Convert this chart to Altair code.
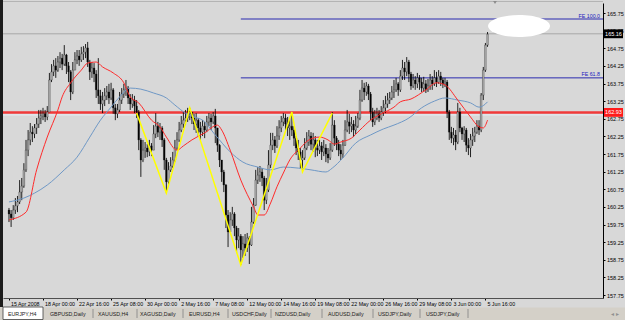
import altair as alt
import pandas as pd

# ---------------- data ----------------
first_open = 160.16
close = [160.05,159.94,160.16,160.28,160.39,160.67,160.84,161.30,161.86,162.15,
162.37,162.32,162.49,162.60,162.77,162.83,162.89,162.80,162.94,163.85,
164.08,164.25,164.13,164.36,164.47,164.30,164.56,164.25,164.08,163.51,
164.13,164.42,164.53,164.42,164.59,164.64,164.76,164.36,164.08,164.19,
164.02,163.57,163.40,163.17,163.28,163.40,163.51,163.34,163.57,163.06,
162.89,163.00,163.28,163.45,163.57,163.62,163.34,163.17,163.28,163.11,
162.94,162.15,161.58,161.86,161.92,161.81,161.98,161.86,162.32,162.54,
162.37,162.49,162.15,161.58,160.96,161.30,161.41,161.58,161.92,162.15,
162.43,162.60,162.71,162.77,162.89,162.94,162.77,162.60,162.71,162.49,
162.37,162.54,162.43,162.66,162.77,162.66,162.83,162.49,162.00,161.58,
161.24,160.87,160.02,159.54,159.88,160.05,159.65,159.31,159.42,159.03,
159.20,159.08,159.37,159.17,159.82,160.30,161.01,161.15,161.24,161.07,
160.44,160.73,161.44,162.00,162.15,161.98,162.26,162.49,162.66,162.77,
162.60,162.49,162.54,162.43,162.20,161.92,161.81,161.58,161.64,161.92,
162.09,162.26,162.03,162.15,161.92,161.86,161.98,161.81,161.92,161.75,
161.64,161.86,162.57,162.20,162.03,161.86,161.75,162.00,162.43,162.66,
162.54,162.60,162.43,162.54,162.77,163.28,163.62,163.51,163.68,163.45,
162.94,162.66,162.77,162.89,162.77,162.94,163.06,163.17,163.28,163.34,
163.51,163.57,163.74,163.57,163.96,164.19,164.08,164.36,164.02,163.68,
163.85,163.74,163.91,163.79,163.62,163.74,163.57,163.68,163.85,163.74,
163.91,163.79,163.96,163.85,163.74,163.79,162.94,162.37,162.20,162.29,
162.09,162.94,162.49,162.32,162.43,162.00,161.92,162.15,162.26,162.37,
162.54,162.43,163.42,164.13,164.84,165.15]
high = [160.22,160.16,160.30,160.50,160.56,161.01,161.07,161.49,162.15,162.43,
162.63,162.54,162.60,162.77,163.00,163.00,163.06,163.00,163.11,164.05,
164.30,164.42,164.47,164.53,164.64,164.59,164.84,164.59,164.36,164.13,
164.36,164.64,164.70,164.70,164.79,164.81,164.87,164.93,164.42,164.36,
164.33,164.13,164.47,163.57,163.51,163.62,163.68,163.74,163.77,163.62,
163.17,163.17,163.51,163.62,163.74,163.85,163.68,163.45,163.45,163.40,
163.28,163.00,162.20,162.15,162.09,162.03,162.15,162.06,162.57,162.91,
162.66,162.63,162.54,162.20,161.64,161.52,161.66,161.81,162.15,162.37,
162.66,162.83,162.94,163.00,163.06,163.06,162.94,162.89,162.91,162.77,
162.66,162.71,162.66,162.83,162.91,162.89,162.94,163.03,162.49,162.03,
161.58,161.30,160.90,160.16,160.10,160.25,160.10,159.71,159.65,159.48,
159.42,159.48,159.51,159.42,160.25,160.50,161.30,161.38,161.41,161.35,
161.13,161.07,161.86,162.35,162.35,162.26,162.54,162.71,162.83,162.91,
162.89,162.80,162.77,162.91,162.54,162.26,162.15,161.92,161.86,162.20,
162.37,162.43,162.37,162.35,162.26,162.15,162.15,162.09,162.15,162.03,
161.92,162.06,162.94,162.71,162.26,162.15,162.03,162.15,162.71,163.00,
162.89,162.80,162.71,162.83,162.91,163.57,163.85,163.77,163.79,163.74,
163.51,163.06,163.00,163.06,163.00,163.11,163.28,163.40,163.48,163.51,
163.68,163.85,163.91,163.79,164.13,164.42,164.36,164.50,164.42,164.08,
164.02,163.96,164.05,163.99,163.91,163.94,163.85,163.88,164.02,163.96,
164.13,164.08,164.13,164.08,163.91,163.91,163.85,163.00,162.52,162.49,
162.43,163.20,163.06,162.52,162.54,162.49,162.20,162.32,162.49,162.52,
162.71,162.71,163.48,164.22,164.90,165.21]
low = [159.82,159.68,159.88,160.05,160.10,160.33,160.44,160.79,161.24,161.69,
162.00,162.09,162.20,162.32,162.49,162.60,162.71,162.66,162.71,162.94,
163.79,163.96,163.91,164.08,164.19,164.13,164.25,164.02,163.79,163.28,
163.45,164.13,164.30,164.25,164.36,164.42,164.47,164.22,163.85,163.91,
163.79,163.34,163.17,163.00,162.91,163.11,163.28,163.17,163.28,162.89,
162.71,162.77,162.94,163.17,163.34,163.40,163.17,163.00,163.06,162.91,
162.77,161.86,161.10,161.52,161.64,161.66,161.69,161.69,161.86,162.20,
162.23,162.15,161.95,161.30,160.64,160.87,161.24,161.35,161.52,161.86,
162.09,162.37,162.49,162.57,162.66,162.71,162.60,162.43,162.35,162.26,
162.15,162.26,162.20,162.37,162.54,162.43,162.60,162.06,161.81,161.38,
160.96,160.67,159.65,159.11,159.54,159.71,159.42,158.94,159.08,158.60,
158.80,158.86,158.97,158.63,159.14,159.77,160.28,160.90,160.96,160.84,
160.16,160.33,160.67,161.35,161.86,161.78,161.92,162.15,162.37,162.54,
162.43,162.26,162.15,162.26,161.98,161.72,161.58,161.35,161.24,161.58,
161.86,161.98,161.86,161.81,161.66,161.69,161.75,161.58,161.69,161.52,
161.49,161.58,161.81,161.98,161.86,161.69,161.58,161.64,161.98,162.37,
162.32,162.37,162.23,162.32,162.49,162.71,163.23,163.28,163.40,163.28,
162.71,162.52,162.57,162.71,162.66,162.71,162.83,162.91,163.06,163.17,
163.28,163.34,163.51,163.40,163.51,163.85,163.85,163.96,163.79,163.57,
163.62,163.57,163.62,163.57,163.51,163.51,163.48,163.51,163.57,163.57,
163.68,163.65,163.74,163.68,163.62,163.65,162.77,162.15,162.06,162.00,
161.86,162.03,162.37,162.15,162.09,161.81,161.72,161.66,161.98,162.09,
162.32,162.29,162.37,163.28,164.08,164.79]

ma_fast_bar = [0,8,13,18,23,25,29,34,37,41,44,49,54,57,61,67,71,74,79,82,86,92,98,100,104,
               109,115,117,120,123,126,129,132,137,141,146,150,153,156,161,165,170,175,181,
               184,189,196,201,205,211,217,221,223,225]
ma_fast = [159.88,160.10,161.30,162.23,163.00,163.37,163.77,164.13,164.33,164.36,
           164.22,164.05,163.77,163.37,163.20,162.71,162.52,162.23,161.86,161.98,
           162.15,162.35,162.57,162.43,161.86,161.01,160.25,160.02,160.02,160.36,
           160.82,161.21,161.58,161.92,162.15,162.23,162.15,162.03,162.09,162.20,
           162.43,162.71,162.89,163.08,163.23,163.31,163.57,163.77,163.71,163.28,
           162.80,162.52,162.49,162.71]
ma_slow_bar = [0,7,12,18,26,32,38,43,48,52,57,62,68,74,78,83,87,91,97,104,110,117,123,
               129,136,142,149,152,157,163,170,176,181,188,194,200,205,211,217,221,224,225]
ma_slow = [160.39,160.50,160.64,160.87,161.30,161.66,162.23,162.71,163.08,163.37,
           163.62,163.59,163.48,163.34,163.14,162.91,162.80,162.71,162.29,161.81,
           161.52,161.38,161.30,161.38,161.35,161.30,161.24,161.35,161.64,162.06,
           162.29,162.46,162.57,162.77,163.06,163.25,163.34,163.28,163.20,163.08,
           163.17,163.23]
zz_bar = [60, 74, 85, 109, 133, 138, 152]
zz_price = [162.91, 160.64, 163.06, 158.60, 162.94, 161.24, 162.91]

time_labels = ["15 Apr 2008", "18 Apr 00:00", "22 Apr 16:00", "25 Apr 08:00", "30 Apr 00:00",
               "2 May 16:00", "7 May 08:00", "12 May 00:00", "14 May 16:00", "19 May 08:00",
               "22 May 00:00", "26 May 16:00", "29 May 08:00", "3 Jun 00:00", "5 Jun 16:00"]
label_step = 16
price_ticks = [157.75, 158.25, 158.75, 159.25, 159.75, 160.25, 160.75, 161.25, 161.75,
               162.25, 162.75, 163.25, 163.75, 164.25, 164.75, 165.25, 165.75]
bid_price = 165.16
red_level = 162.93
fe_levels = [165.58, 163.91]
fe_names = ["FE 100.0", "FE 61.8"]
fe_start_bar = 109
tabs = ["EURJPY,H4", "GBPUSD,Daily", "XAUUSD,H4", "XAGUSD,Daily", "EURUSD,H4",
        "USDCHF,Daily", "NZDUSD,Daily", "AUDUSD,Daily", "USDJPY,Daily", "USDJPY,Daily"]

# ---------------- layout ----------------
W, H = 600, 295
FONT = "Liberation Sans"
BG = "#d8d8d8"
tab_x = [8, 50, 98, 140, 189, 232, 275, 328, 378, 426]
sep_x = [93, 137, 183, 228, 271, 322, 373, 420, 468]

opens = [first_open] + close[:-1]
df = pd.DataFrame({"i": list(range(len(close))), "open": opens, "close": close,
                   "high": high, "low": low})
fast = pd.DataFrame({"i": ma_fast_bar, "p": ma_fast})
slow = pd.DataFrame({"i": ma_slow_bar, "p": ma_slow})
zz = pd.DataFrame({"i": zz_bar, "p": zz_price})
fe = pd.DataFrame({"level": fe_levels, "name": fe_names, "start": [fe_start_bar] * 2})
bid_df = pd.DataFrame({"p": [bid_price]})
red_df = pd.DataFrame({"p": [red_level]})
dummy = pd.DataFrame({"k": [0]})

xs = alt.Scale(domain=[-0.46, 276.93], nice=False, zero=False)
ys = alt.Scale(domain=[157.665, 166.034], nice=False, zero=False)

lab_arr = "[" + ",".join("'%s'" % s for s in time_labels) + "]"
xaxis = alt.Axis(values=[k * label_step for k in range(len(time_labels))],
                 labelExpr=lab_arr + "[round(datum.value/%d)]" % label_step,
                 orient="bottom", labelAlign="left", labelBaseline="top",
                 labelFont=FONT, labelFontSize=5.3, labelColor="black",
                 labelPadding=1, labelOffset=1.5, tickSize=2, tickColor="black",
                 domainColor="#505050", domainWidth=1, grid=False, title=None,
                 labelOverlap=False, labelFlush=False)
yaxis = alt.Axis(orient="right", values=price_ticks, format=".2f",
                 labelFont=FONT, labelFontSize=5.5, labelColor="black",
                 labelPadding=1.5, tickSize=2, tickColor="black",
                 domainColor="black", domainWidth=1, grid=False, title=None,
                 labelOverlap=False, labelFlush=False)


def X(f):
    return alt.X(f, type="quantitative", scale=xs, axis=xaxis)


def Y(f):
    return alt.Y(f, type="quantitative", scale=ys, axis=yaxis)


red_line = alt.Chart(red_df).mark_rule(color="#f03a3a", strokeWidth=2.5).encode(
    x=alt.value(0), x2=alt.value(W), y=Y("p"))
red_shadow = alt.Chart(red_df).mark_rule(color="#e4eef6", strokeWidth=1).encode(
    x=alt.value(0), x2=alt.value(W), y=Y("p"), yOffset=alt.value(2.5))
bid_line = alt.Chart(bid_df).mark_rule(color="#a8a8a8", strokeWidth=1).encode(
    x=alt.value(0), x2=alt.value(W), y=Y("p"))
fe_lines = alt.Chart(fe).mark_rule(color="#2b2bb0", strokeWidth=1).encode(
    x=X("start"), x2=alt.value(W), y=Y("level"))
fe_text = alt.Chart(fe).mark_text(align="right", baseline="bottom", font=FONT,
                                  fontSize=5.3, color="#2020c0", dy=-0.5).encode(
    x=alt.value(W - 3), y=Y("level"), text="name:N")

wick = alt.Chart(df).mark_rule(color="black", strokeWidth=0.85).encode(
    x=X("i"), y=Y("low"), y2="high:Q")
body = alt.Chart(df).mark_bar(size=1.7, stroke="#1a1a1a", strokeWidth=0.3).encode(
    x=X("i"), y=Y("open"), y2="close:Q",
    color=alt.condition("datum.close >= datum.open", alt.value("#b0b0b0"), alt.value("#000000")))

fast_line = alt.Chart(fast).mark_line(color="#ff2a2a", strokeWidth=1, interpolate="monotone").encode(
    x=X("i"), y=Y("p"))
slow_line = alt.Chart(slow).mark_line(color="#6f98c6", strokeWidth=1, interpolate="monotone").encode(
    x=X("i"), y=Y("p"))
zz_line = alt.Chart(zz).mark_line(color="#ffff00", strokeWidth=1.5).encode(x=X("i"), y=Y("p"))

ellipse = alt.Chart(dummy).mark_point(
    shape="M-1,0 A1,0.355 0 1,1 1,0 A1,0.355 0 1,1 -1,0 Z",
    filled=True, size=3844, color="white", opacity=1, strokeWidth=0).encode(
    x=alt.value(516), y=alt.value(23))


def box_rect(src, fill):
    return alt.Chart(src).mark_rect(color=fill).transform_calculate(
        a="datum.p + 0.125", b="datum.p - 0.125").encode(
        x=alt.value(W + 1), x2=alt.value(W + 20), y=Y("a"), y2="b:Q")


def box_text(src):
    return alt.Chart(src).mark_text(font=FONT, fontSize=5.5, color="white", align="center",
                                    baseline="middle").encode(
        x=alt.value(W + 10.5), y=Y("p"), text=alt.Text("p:Q", format=".2f"))


# window decorations (tab strip below the time labels)
tabbar = alt.Chart(dummy).mark_rect(color="#d4d0c8").encode(
    x=alt.value(-3), x2=alt.value(W + 22), y=alt.value(H + 9.5), y2=alt.value(H + 22))
active = alt.Chart(dummy).mark_rect(color="white", stroke="#404040", strokeWidth=0.8).encode(
    x=alt.value(0), x2=alt.value(40), y=alt.value(H + 9), y2=alt.value(H + 21.5))
left_border = alt.Chart(dummy).mark_rule(color="#1c1c1c", strokeWidth=3).encode(
    x=alt.value(-1.5), y=alt.value(-3), y2=alt.value(H + 9))
top_border = alt.Chart(dummy).mark_rule(color="#b4b4b4", strokeWidth=1).encode(
    x=alt.value(0), x2=alt.value(W), y=alt.value(-1.5))
shift_marker = alt.Chart(dummy).mark_point(shape="triangle-down", filled=True, size=14,
                                           color="#8c8c8c", opacity=1).encode(
    x=alt.value(492), y=alt.value(-0.5))

layers = [tabbar, active, left_border, top_border, shift_marker, bid_line, red_shadow,
          red_line, fe_lines, fe_text, wick, body, slow_line, fast_line, zz_line, ellipse,
          box_rect(bid_df, "#000000"), box_text(bid_df),
          box_rect(red_df, "#ff1a1a"), box_text(red_df)]
for name, tx in zip(tabs, tab_x):
    layers.append(alt.Chart(dummy).mark_text(font=FONT, fontSize=5.3, color="#202020",
                                             align="left", baseline="middle").encode(
        x=alt.value(tx - 3), y=alt.value(H + 15.5), text=alt.value(name)))
for sx in sep_x:
    layers.append(alt.Chart(dummy).mark_rule(color="#808080", strokeWidth=0.8).encode(
        x=alt.value(sx - 3), y=alt.value(H + 11), y2=alt.value(H + 20)))
layers.append(alt.Chart(dummy).mark_text(font=FONT, fontSize=5.5, color="#909090",
                                         align="center", baseline="middle").encode(
    x=alt.value(W + 12), y=alt.value(H + 15.5), text=alt.value("\u25c2  \u25b8")))

chart = alt.layer(*layers).properties(
    width=W, height=H, autosize="none", background=BG,
    padding={"left": 3, "top": 3, "right": 22, "bottom": 22}
).configure_view(stroke=None, fill=BG)

chart.save("out.html", embed_options={"renderer": "svg", "actions": False})
